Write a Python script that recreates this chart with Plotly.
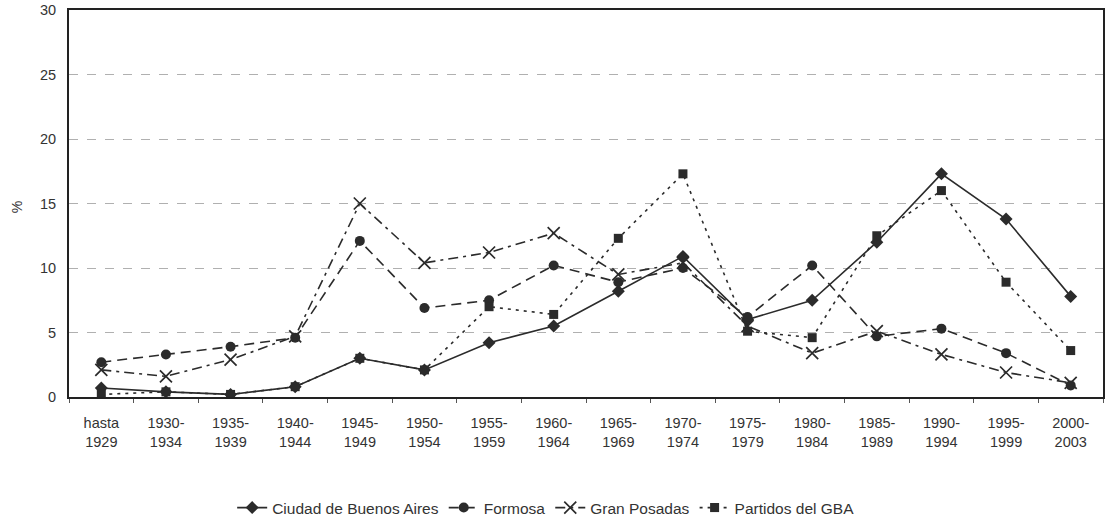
import plotly.graph_objects as go

categories = ["hasta<br>1929", "1930-<br>1934", "1935-<br>1939", "1940-<br>1944", "1945-<br>1949",
              "1950-<br>1954", "1955-<br>1959", "1960-<br>1964", "1965-<br>1969", "1970-<br>1974",
              "1975-<br>1979", "1980-<br>1984", "1985-<br>1989", "1990-<br>1994", "1995-<br>1999",
              "2000-<br>2003"]

ciudad = [0.7, 0.4, 0.2, 0.8, 3.0, 2.1, 4.2, 5.5, 8.2, 10.9, 6.0, 7.5, 12.0, 17.3, 13.8, 7.8]
formosa = [2.7, 3.3, 3.9, 4.6, 12.1, 6.9, 7.5, 10.2, 8.9, 10.0, 6.2, 10.2, 4.7, 5.3, 3.4, 0.9]
posadas = [2.1, 1.6, 2.9, 4.7, 15.0, 10.4, 11.2, 12.7, 9.5, 10.4, 5.5, 3.4, 5.1, 3.3, 1.9, 1.1]
partidos = [0.2, 0.4, 0.2, 0.8, 3.0, 2.1, 7.0, 6.4, 12.3, 17.3, 5.1, 4.6, 12.5, 16.0, 8.9, 3.6]

col = "#2b2b2b"
fnt = "Liberation Sans, Arial, Helvetica, sans-serif"
fig = go.Figure()
fig.add_trace(go.Scatter(x=categories, y=ciudad, name="Ciudad de Buenos Aires", mode="lines+markers",
                         line=dict(color=col, width=1.6, dash="solid"),
                         marker=dict(symbol="diamond", size=10, color=col)))
fig.add_trace(go.Scatter(x=categories, y=formosa, name="Formosa", mode="lines+markers",
                         line=dict(color=col, width=1.6, dash="10px,6px"),
                         marker=dict(symbol="circle", size=10, color=col)))
fig.add_trace(go.Scatter(x=categories, y=posadas, name="Gran Posadas", mode="lines+markers",
                         line=dict(color=col, width=1.6, dash="10px,5px,3px,5px"),
                         marker=dict(symbol="x-thin", size=12, color=col, line=dict(color=col, width=1.7))))
fig.add_trace(go.Scatter(x=categories, y=partidos, name="Partidos del GBA", mode="lines+markers",
                         line=dict(color=col, width=1.6, dash="3px,5px"),
                         marker=dict(symbol="square", size=9, color=col)))

fig.update_layout(
    width=1109, height=520,
    margin=dict(l=69, r=6, t=10, b=123, autoexpand=False),
    paper_bgcolor="white", plot_bgcolor="white",
    font=dict(family=fnt, size=14.5, color="#333"),
    showlegend=True,
    legend=dict(orientation="h", xref="paper", x=0.461, xanchor="center",
                yref="container", y=1 - 508 / 520, yanchor="middle",
                font=dict(size=15.5), itemwidth=30, tracegroupgap=0),
    annotations=[dict(text="%", xref="paper", yref="paper", x=-0.05, y=0.491, showarrow=False,
                      xanchor="center", yanchor="middle",
                      textangle=-90, font=dict(size=14, color="#333"))],
)
fig.update_xaxes(type="category", range=[-0.5, len(categories) - 0.5],
                 showline=True, linecolor="#222", linewidth=2, mirror=True,
                 ticks="outside", tickson="boundaries", ticklen=4, tickcolor="#555",
                 showgrid=False, tickfont=dict(size=14.5), automargin=False, ticklabelstandoff=12)
fig.update_yaxes(range=[0, 30], dtick=5, showline=True, linecolor="#222", linewidth=2, mirror=True,
                 showgrid=True, gridcolor="#b0b0b0", griddash="dash", gridwidth=1,
                 zeroline=False, ticks="", tickfont=dict(size=14.5), automargin=False,
                 ticklabelstandoff=8)

fig.write_html("out.html", config={"displayModeBar": False},
               post_script="document.body.style.margin='0';"
                           "document.documentElement.style.overflow='hidden';")
